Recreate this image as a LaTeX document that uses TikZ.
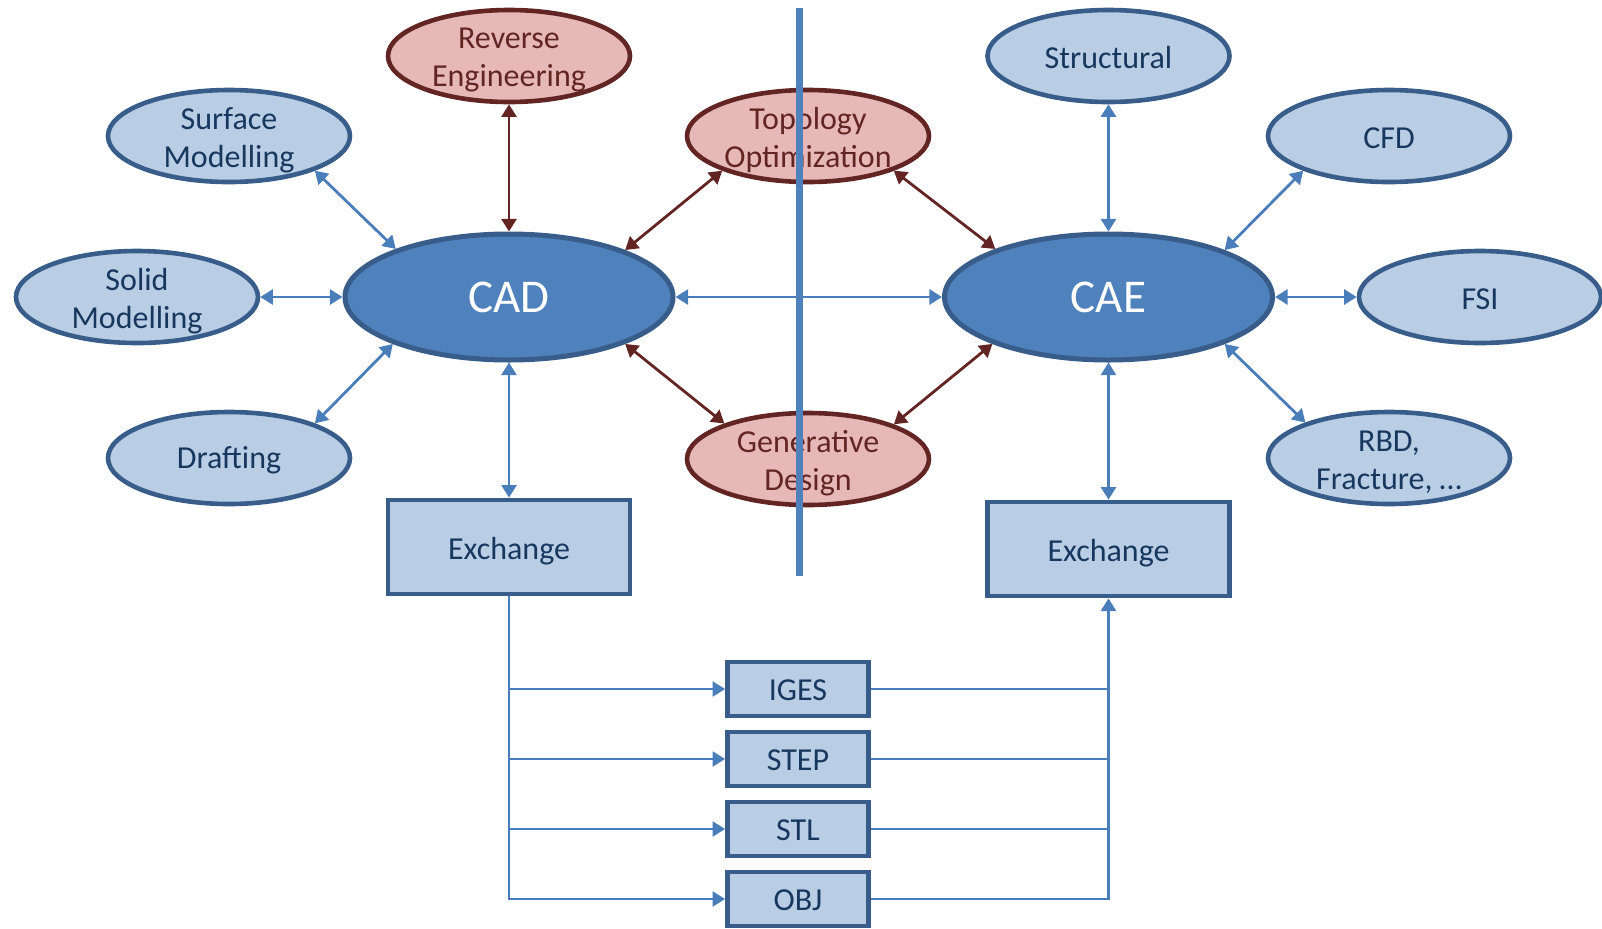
\documentclass[tikz,border=0pt]{standalone}
\usepackage{fontspec}
\setmainfont{Carlito}
\usetikzlibrary{shapes.geometric,arrows.meta}

\definecolor{lightfill}{HTML}{B9CDE5}
\definecolor{bordblue}{HTML}{385D8A}
\definecolor{midblue}{HTML}{4F81BD}
\definecolor{navytext}{HTML}{17375E}
\definecolor{pinkfill}{HTML}{E6B9B8}
\definecolor{darkred}{HTML}{632523}
\definecolor{arrowblue}{HTML}{4A7EBB}

\tikzset{
  % caption set slightly below the middle of its shape
  caption/.style={align=center, inner sep=0pt, yshift=-2pt,
    font=\fontsize{16}{19}\selectfont, text=navytext},
  redcaption/.style={caption, text=darkred},
  oval/.style={ellipse, draw=bordblue, fill=lightfill, line width=2.3pt,
    minimum width=121pt, minimum height=46pt, inner sep=0pt},
  sub/.style={oval, label={[caption]center:#1}},
  single/.style={oval, label={[caption, yshift=1pt]center:#1}},
  opt/.style={oval, draw=darkred, fill=pinkfill,
    label={[redcaption]center:#1}},
  hub/.style={ellipse, draw=bordblue, fill=midblue, line width=2.5pt,
    minimum width=164pt, minimum height=63pt, inner sep=0pt,
    text=white, font=\fontsize{23.5}{28}\selectfont},
  xbox/.style={rectangle, draw=bordblue, fill=lightfill, line width=2.4pt,
    minimum width=121pt, minimum height=47pt, inner sep=0pt,
    label={[caption]center:#1}},
  fmt/.style={rectangle, draw=bordblue, fill=lightfill, line width=2.4pt,
    minimum width=70.5pt, minimum height=27pt, inner sep=0pt,
    label={[caption, yshift=1.5pt]center:#1}},
  tip/.tip={Triangle[length=6.3pt,width=7.5pt]},
  link/.style={draw=arrowblue, line width=1.4pt, tip-tip},
  rlink/.style={link, draw=darkred},
  flow/.style={draw=arrowblue, line width=1.3pt},
}

\begin{document}
\begin{tikzpicture}[x=0.5pt,y=-0.5pt]
\useasboundingbox (0,0) rectangle (1602,928);

% CAD side
\node[hub]                              (cad)   at (509,297)  {CAD};
\node[opt={Reverse\\Engineering}]       (rev)   at (509,56)   {};
\node[sub={Surface\\Modelling}]         (surf)  at (229,136)  {};
\node[sub={Solid\\Modelling}]           (solid) at (137,297)  {};
\node[single={Drafting}]                (draft) at (229,458)  {};
\node[xbox={Exchange}]                  (exL)   at (509,547)  {};

% shared between CAD and CAE
\node[opt={Topology\\Optimization}]     (topo)  at (808,136)  {};
\node[opt={Generative\\Design}]         (gen)   at (808,459)  {};

% CAE side
\node[hub]                              (cae)   at (1108.5,297) {CAE};
\node[single={Structural}]              (struc) at (1108.5,56)  {};
\node[single={CFD}]                     (cfd)   at (1389,136)   {};
\node[single={FSI}]                     (fsi)   at (1480,297)   {};
\node[sub={{RBD,\\Fracture, …}}]        (rbd)   at (1389,458)   {};
\node[xbox={Exchange}]                  (exR)   at (1108.5,549) {};

% exchange formats
\node[fmt={IGES}] (iges) at (798,689) {};
\node[fmt={STEP}] (step) at (798,759) {};
\node[fmt={STL}]  (stl)  at (798,829) {};
\node[fmt={OBJ}]  (obj)  at (798,899) {};

% links around CAD
\draw[link]  (surf.-22.5)  -- (cad.157.5);
\draw[link]  (solid.east)  -- (cad.west);
\draw[link]  (draft.22.5)  -- (cad.202.5);
\draw[rlink] (rev.south)   -- (cad.north);
\draw[rlink] (topo.202.5)  -- (cad.22.5);
\draw[rlink] (gen.157.5)   -- (cad.-22.5);
\draw[link]  (cad.south)   -- (exL.north);

% links around CAE
\draw[link]  (cad.east)    -- (cae.west);
\draw[rlink] (topo.-22.5)  -- (cae.157.5);
\draw[rlink] (gen.22.5)    -- (cae.202.5);
\draw[link]  (struc.south) -- (cae.north);
\draw[link]  (cfd.202.5)   -- (cae.22.5);
\draw[link]  (fsi.west)    -- (cae.east);
\draw[link]  (rbd.157.5)   -- (cae.-22.5);
\draw[link]  (cae.south)   -- (exR.north);

% CAD exchange fans out to the formats
\draw[flow, -tip] (exL.south) |- (obj.west);
\foreach \f in {iges,step,stl}
  \draw[flow, -tip] (exL.south |- \f.west) -- (\f.west);

% formats gather into the CAE exchange
\draw[flow, -tip] (obj.east) -| (exR.south);
\foreach \f in {iges,step,stl}
  \draw[flow] (\f.east) -- (\f.east -| exR.south);

% divider between the CAD and CAE halves
\draw[midblue, line width=3.5pt] (799,8) -- (799,576);
\end{tikzpicture}
\end{document}
